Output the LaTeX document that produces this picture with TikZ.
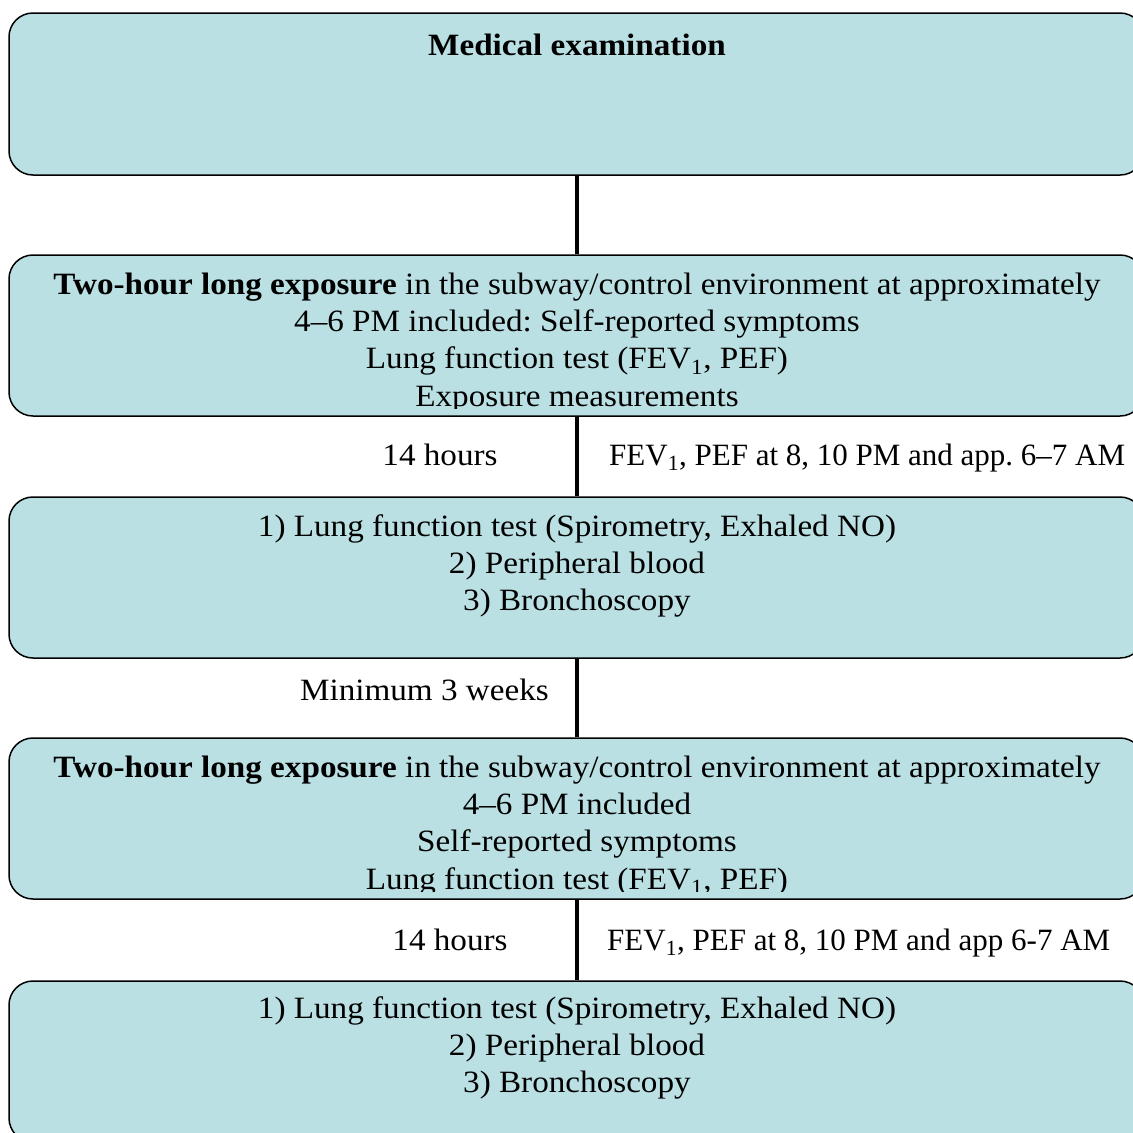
\documentclass[tikz,border=0pt]{standalone}
\usepackage{fontspec}
\setmainfont{Liberation Serif}[FakeStretch=1.07]
\newfontfamily\narrowserif{Liberation Serif}
\usetikzlibrary{positioning}

\definecolor{stepfill}{RGB}{186,224,227}

\tikzset{
  stepbox/.style={draw=black, line width=1.5pt, fill=stepfill, rounded corners=24pt,
    minimum width=1135pt, minimum height=161pt, inner sep=0pt},
  steptext/.style={align=center, inner sep=0pt, anchor=base,
    font=\fontsize{31}{37.3}\selectfont},
  sidetext/.style={inner sep=0pt, font=\fontsize{31}{37.3}\selectfont},
  timetext/.style={sidetext, anchor=base west, font=\fontsize{31}{37.3}\narrowserif},
  link/.style={line width=4pt}
}

\begin{document}
\frenchspacing
\begin{tikzpicture}[x=1pt,y=-1pt]
\useasboundingbox (0,0) rectangle (1133,1133);
\clip (0,0) rectangle (1133,1133);

% boxes
\node[stepbox, minimum height=162pt] (med) at (576.5,94) {};
\node[stepbox] (expA) at (576.5,335.5) {};
\node[stepbox] (sampA) at (576.5,577.5) {};
\node[stepbox] (expB) at (576.5,818.5) {};
\node[stepbox] (sampB) at (576.5,1061.5) {};

% connectors
\draw[link] (med) -- (expA);
\draw[link] (expA) -- (sampA);
\draw[link] (sampA) -- (expB);
\draw[link] (expB) -- (sampB);

% box texts (anchored at the last baseline)
\node[steptext] (medtxt) at (577,55) {\textbf{Medical examination}};

\begin{scope}
\clip (0,255) rectangle (1133,408);
\node[steptext] (expAtxt) at (577,406) {\textbf{Two-hour long exposure} in the subway/control environment at approximately\\
4–6 PM included: Self-reported symptoms\\
Lung function test (FEV\textsubscript{1}, PEF)\\
Exposure measurements};
\end{scope}

\node[steptext] (sampAtxt) at (577,610.6) {1) Lung function test (Spirometry, Exhaled NO)\\
2) Peripheral blood\\
3) Bronchoscopy};

\begin{scope}
\clip (0,738) rectangle (1133,891);
\node[steptext] (expBtxt) at (577,889) {\textbf{Two-hour long exposure} in the subway/control environment at approximately\\
4–6 PM included\\
Self-reported symptoms\\
Lung function test (FEV\textsubscript{1}, PEF)};
\end{scope}

\node[steptext] (sampBtxt) at (577,1092.6) {1) Lung function test (Spirometry, Exhaled NO)\\
2) Peripheral blood\\
3) Bronchoscopy};

% side labels
\node[sidetext, anchor=base] (waitA) at (440,465) {14 hours};
\node[timetext] (measA) at (609,465) {FEV\textsubscript{1}, PEF at 8, 10 PM and app. 6–7 AM};
\node[sidetext, anchor=base east] (gap) at (549,700) {Minimum 3 weeks};
\node[sidetext, anchor=base] (waitB) at (450,950) {14 hours};
\node[timetext] (measB) at (607,950) {FEV\textsubscript{1}, PEF at 8, 10 PM and app 6-7 AM};
\end{tikzpicture}
\end{document}
